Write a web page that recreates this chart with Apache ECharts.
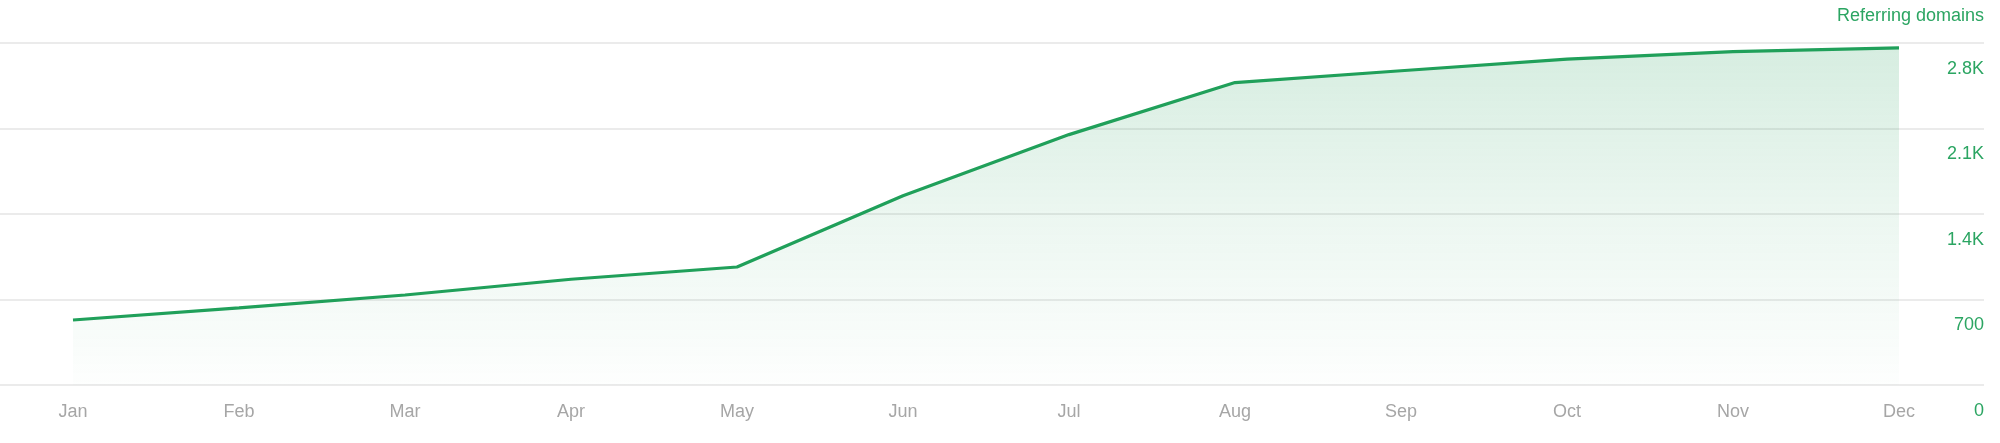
<!DOCTYPE html>
<html>
<head>
<meta charset="utf-8">
<script src="https://cdn.jsdelivr.net/npm/echarts@6/dist/echarts.min.js"></script>
<style>
html,body{margin:0;padding:0;background:#fff;}
#chart{width:2000px;height:443px;}
</style>
</head>
<body>
<div id="chart"></div>
<script>
const months = ['Jan','Feb','Mar','Apr','May','Jun','Jul','Aug','Sep','Oct','Nov','Dec'];
const referringDomains = [532, 631, 737, 866, 966, 1550, 2050, 2476, 2573, 2668, 2730, 2760];
const yTickValues = [0, 700, 1400, 2100, 2800];
const yTickLabels = ['0', '700', '1.4K', '2.1K', '2.8K'];
const seriesName = 'Referring domains';

const green = '#20a05a';
const labelGreen = '#2ba562';
const font = '"Liberation Sans", Arial, Helvetica, sans-serif';

const chart = echarts.init(document.getElementById('chart'), null, {renderer: 'canvas'});
chart.setOption({
  animation: false,
  title: {
    text: seriesName,
    right: 16,
    top: 7,
    padding: 0,
    textStyle: {color: labelGreen, fontSize: 18, fontWeight: 'normal', fontFamily: font}
  },
  grid: [
    {left: 0, right: 16, top: 43, bottom: 58},
    {left: 73, right: 101, top: 43, bottom: 58}
  ],
  xAxis: [
    {gridIndex: 0, type: 'value', min: 0, max: 1, show: false},
    {
      gridIndex: 1, type: 'category', data: months, boundaryGap: false,
      axisLine: {show: false}, axisTick: {show: false},
      axisLabel: {color: '#a6a6a6', fontSize: 18, fontFamily: font, margin: 18, interval: 0}
    }
  ],
  yAxis: [
    {
      gridIndex: 0, type: 'value', position: 'right',
      min: yTickValues[0], max: yTickValues[yTickValues.length - 1], interval: 700,
      axisLine: {show: false}, axisTick: {show: false},
      splitLine: {show: true, lineStyle: {color: '#e4e4e4', width: 1.5}},
      axisLabel: {
        inside: true, align: 'right', margin: 0, verticalAlign: 'top',
        padding: [17, 0, 0, 0],
        color: labelGreen, fontSize: 18, fontFamily: font,
        formatter: function (v) { const i = yTickValues.indexOf(v); return i >= 0 ? yTickLabels[i] : ''; }
      }
    },
    {
      gridIndex: 1, type: 'value',
      min: yTickValues[0], max: yTickValues[yTickValues.length - 1],
      show: false, splitLine: {show: false}
    }
  ],
  series: [{
    name: seriesName,
    type: 'line',
    xAxisIndex: 1, yAxisIndex: 1,
    data: referringDomains,
    symbol: 'none',
    lineStyle: {color: green, width: 3.2},
    areaStyle: {
      color: new echarts.graphic.LinearGradient(0, 0, 0, 1, [
        {offset: 0, color: 'rgba(31,157,87,0.26)'},
        {offset: 0.5, color: 'rgba(31,157,87,0.12)'},
        {offset: 1, color: 'rgba(31,157,87,0.01)'}
      ])
    }
  }]
});
</script>
</body>
</html>
